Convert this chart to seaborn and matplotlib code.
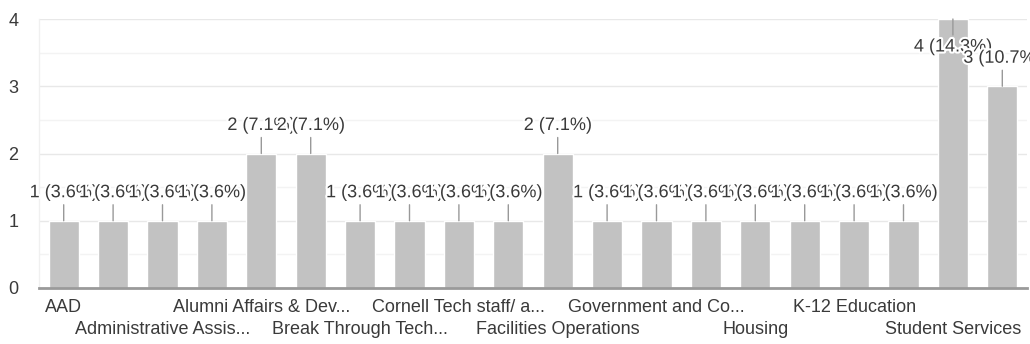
import matplotlib
matplotlib.use("Agg")
import matplotlib.pyplot as plt
import matplotlib.patheffects as pe
from matplotlib.ticker import MultipleLocator
import pandas as pd
import seaborn as sns

# Responses per department
categories = [
    "AAD", "Academic Technologies", "Administrative Assis...", "Admissions",
    "Alumni Affairs & Dev...", "Athletics", "Break Through Tech...", "Career Management",
    "Cornell Tech staff/ a...", "Dean's Office", "Facilities Operations", "Finance",
    "Government and Co...", "Graduate Studies", "Housing", "Information Technologies",
    "K-12 Education", "Library", "Student Services", "Student Success",
]
counts = [1, 1, 1, 1, 2, 2, 1, 1, 1, 1, 2, 1, 1, 1, 1, 1, 1, 1, 4, 3]
y_ticks = [0, 1, 2, 3, 4]

df = pd.DataFrame({"category": categories, "count": counts})
total = sum(counts)

sns.set_theme(style="white")
plt.rcParams["font.family"] = ["Liberation Sans", "DejaVu Sans"]

TEXT = "#3a3a3a"
BAR = "#c2c2c2"
FS = 13

fig = plt.figure(figsize=(10.30, 3.44), dpi=100)
ax = fig.add_axes([39 / 1030, 1 - 288 / 344, (1027 - 39) / 1030, (288 - 19) / 344])

sns.barplot(data=df, x="category", y="count", color=BAR, saturation=1,
            width=0.61, ax=ax, zorder=2)

ax.set_ylim(0, 4)
ax.set_xlim(-0.5, len(categories) - 0.5)
ax.set_yticks(y_ticks)
ax.yaxis.set_minor_locator(MultipleLocator(0.5))
ax.grid(axis="y", which="major", color="#e8e8e8", lw=1, zorder=0)
ax.grid(axis="y", which="minor", color="#f3f3f3", lw=1, zorder=0)
ax.set_axisbelow(True)

for side in ("top", "right"):
    ax.spines[side].set_visible(False)
ax.spines["left"].set_color("#f0f0f0")
ax.spines["left"].set_linewidth(1)
ax.spines["bottom"].set_color("#9a9a9a")
ax.spines["bottom"].set_linewidth(2)
ax.spines["bottom"].set_zorder(3)

ax.set_xlabel("")
ax.set_ylabel("")

# every other category is labelled, in two staggered rows
ax.set_xticks(range(0, len(categories), 2))
ax.set_xticklabels(categories[::2], fontsize=FS, color=TEXT)
ax.tick_params(axis="x", length=0)
for k, tick in enumerate(ax.xaxis.get_major_ticks()):
    tick.set_pad(8 if k % 2 == 0 else 24)
ax.tick_params(axis="y", which="both", length=0, pad=15, labelsize=FS, labelcolor=TEXT)

# value annotations with stems
ymax = ax.get_ylim()[1]
halo = [pe.withStroke(linewidth=3, foreground="white")]
for i, v in enumerate(counts):
    label = f"{v} ({v / total * 100:.1f}%)"
    sign = -1 if v >= ymax else 1
    ax.annotate("", xy=(i, v), xytext=(0, sign * 16), textcoords="offset pixels",
                arrowprops=dict(arrowstyle="-", color="#999999", lw=1,
                                shrinkA=0, shrinkB=0),
                zorder=4 + 2 * i, annotation_clip=False)
    ax.annotate(label, xy=(i, v), xytext=(0, sign * 28), textcoords="offset pixels",
                ha="center", va="center", fontsize=FS, color=TEXT,
                path_effects=halo, zorder=5 + 2 * i, annotation_clip=False)

fig.savefig("out.png", dpi=100, facecolor="white")
